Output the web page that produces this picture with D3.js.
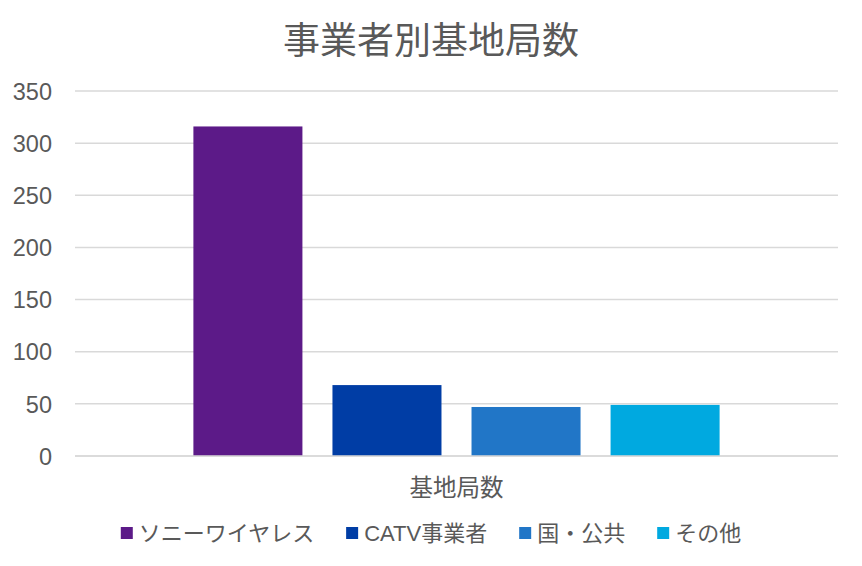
<!DOCTYPE html>
<html>
<head>
<meta charset="utf-8">
<script src="https://cdn.jsdelivr.net/npm/d3@7"></script>
<style>
  body { margin: 0; background: #fff; }
  text { font-family: "Liberation Sans", "Noto Sans CJK JP", sans-serif; fill: #595959; }
</style>
</head>
<body>
<svg></svg>
<script>
const width = 862;
const height = 566;

// データ
const categories = ["基地局数"];
const seriesNames = ["ソニーワイヤレス", "CATV事業者", "国・公共", "その他"];
const seriesValues = [316, 68, 47, 49];
const seriesColors = ["#5C1A88", "#003DA5", "#2176C7", "#00A9E0"];
const yTicks = [0, 50, 100, 150, 200, 250, 300, 350];
const title = "事業者別基地局数";

const plot = {left: 75, right: 838, top: 91, bottom: 456};

let svg = d3.select("svg")
    .attr("width", width)
    .attr("height", height);

let scaleY = d3.scaleLinear()
    .domain([0, 350])
    .range([plot.bottom, plot.top]);

let scaleX0 = d3.scaleBand()
    .domain(categories)
    .range([plot.left, plot.right])
    .paddingInner(0)
    .paddingOuter(0.225);

let scaleX1 = d3.scaleBand()
    .domain(seriesNames)
    .range([0, scaleX0.bandwidth()])
    .paddingInner(0.216)
    .paddingOuter(0);

// グリッド線
svg.append("g")
    .selectAll("line")
    .data(yTicks)
    .enter()
    .append("line")
    .attr("x1", plot.left)
    .attr("x2", plot.right)
    .attr("y1", d => scaleY(d))
    .attr("y2", d => scaleY(d))
    .style("stroke", "#D9D9D9")
    .style("stroke-width", 1.5);

// Y軸
let axisY = d3.axisLeft(scaleY).tickValues(yTicks).tickSize(0).tickPadding(0);
let gY = svg.append("g")
    .attr("transform", `translate(${plot.left - 23}, 0)`)
    .call(axisY);
gY.select(".domain").remove();
gY.selectAll("text")
    .style("font-size", "23.5px")
    .style("font-family", "Liberation Sans, sans-serif")
    .attr("fill", "#595959")
    .attr("dy", "0.35em");

// 棒
const bars = seriesNames.map((name, i) => ({name: name, value: seriesValues[i], color: seriesColors[i], cat: categories[0]}));
svg.append("g")
    .selectAll("rect")
    .data(bars)
    .enter()
    .append("rect")
    .attr("x", d => scaleX0(d.cat) + scaleX1(d.name))
    .attr("width", scaleX1.bandwidth())
    .attr("y", d => scaleY(d.value))
    .attr("height", d => scaleY(0) - scaleY(d.value))
    .style("fill", d => d.color);

// X軸の線
svg.append("line")
    .attr("x1", plot.left)
    .attr("x2", plot.right)
    .attr("y1", scaleY(0))
    .attr("y2", scaleY(0))
    .style("stroke", "#D9D9D9")
    .style("stroke-width", 1.5);

// カテゴリラベル
let axisX = d3.axisBottom(scaleX0).tickSize(0).tickPadding(0);
let gX = svg.append("g")
    .attr("transform", `translate(0, ${scaleY(0) + 19})`)
    .call(axisX);
gX.select(".domain").remove();
gX.selectAll("text")
    .style("font-size", "23.5px")
    .style("font-family", "Noto Sans CJK JP, sans-serif")
    .attr("fill", "#595959")
    .attr("dy", "0.9em");

// タイトル
svg.append("text")
    .attr("x", width / 2)
    .attr("y", 54)
    .attr("text-anchor", "middle")
    .style("font-size", "37px")
    .style("font-family", "Noto Sans CJK JP, sans-serif")
    .text(title);

// 凡例
let legend = svg.append("g");
let items = legend.selectAll("g")
    .data(bars)
    .enter()
    .append("g");
items.append("rect")
    .attr("width", 12)
    .attr("height", 12)
    .attr("y", -6)
    .style("fill", d => d.color);
items.append("text")
    .attr("x", 18)
    .attr("y", 0)
    .attr("dy", "0.36em")
    .style("font-size", "22px")
    .style("font-family", "Liberation Sans, Noto Sans CJK JP, sans-serif")
    .text(d => d.name);

let offsets = [];
let total = 0;
items.each(function(d) {
    let w = d3.select(this).select("text").node().getComputedTextLength() + 18;
    offsets.push(total);
    total += w + 32;
});
total -= 32;
let startX = (width - total) / 2;
items.attr("transform", (d, i) => `translate(${startX + offsets[i]}, 533)`);
</script>
</body>
</html>
